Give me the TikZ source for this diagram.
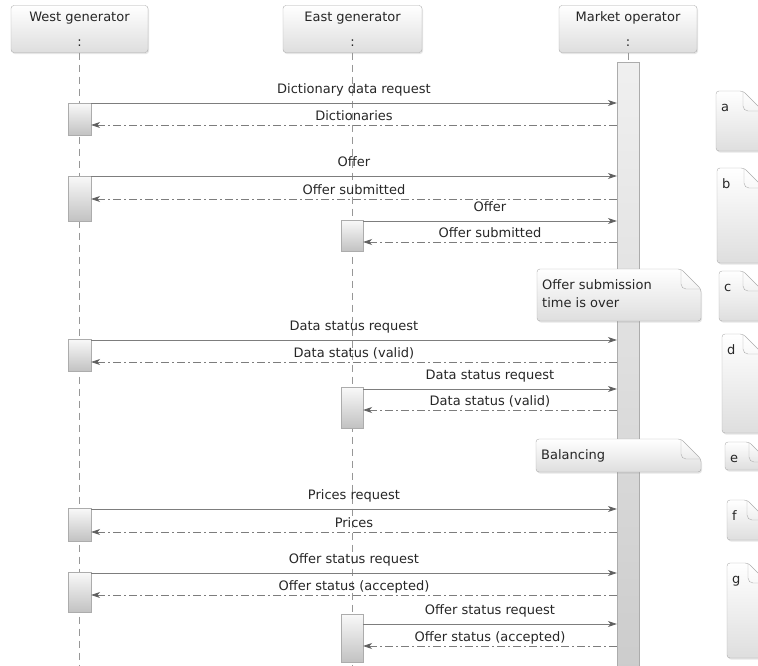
\documentclass[tikz,border=0pt]{standalone}
\usepackage{fontspec}
\setmainfont{DejaVu Sans}
\usetikzlibrary{arrows.meta,shadows}
\definecolor{lncol}{RGB}{125,125,125}
\definecolor{tipcol}{RGB}{95,95,95}
\definecolor{edgecol}{RGB}{172,172,172}
\definecolor{boxbot}{RGB}{222,222,222}
\tikzset{
  lbl/.style={font=\fontsize{13}{18}\selectfont, text=black!85},
  softshadow/.style={drop shadow={shadow xshift=1pt, shadow yshift=-1.5pt, opacity=0.2}},
  head/.style={lbl, draw=edgecol, rounded corners=3pt, top color=white, bottom color=boxbot, minimum width=137pt, minimum height=47pt, align=center, inner sep=0pt, softshadow},
  life/.style={draw=lncol!80, dash pattern=on 7pt off 5pt, line width=0.6pt},
  act/.style={draw=edgecol, top color=gray!5, bottom color=gray!48, minimum width=23pt, inner sep=0pt, anchor=north},
  bar/.style={draw=edgecol, top color=gray!12, bottom color=gray!40, minimum width=22pt, minimum height=610pt, inner sep=0pt, anchor=north},
  msg/.style={draw=lncol, line width=0.7pt, -{Stealth[length=9pt,width=6pt,color=tipcol]}},
  ret/.style={msg, dash pattern=on 8pt off 3pt on 2pt off 3pt},
  reqtxt/.style={lbl, midway, anchor=base, yshift=10pt, inner sep=0pt},
  rettxt/.style={lbl, midway, anchor=base, yshift=5pt, inner sep=0pt},
  notefill/.style={draw=edgecol, rounded corners=3pt, top color=white, bottom color=boxbot, softshadow},
  notefold/.style={draw=edgecol, rounded corners=5pt},
  pics/notebox/.style n args={3}{code={
    \path[notefill] (0,0) -- (#1-20,0) -- (#1,20) -- (#1,#2) -- (0,#2) -- cycle;
    \draw[notefold] (#1-20,0) |- (#1,20);
    \node[lbl, anchor=base west, inner sep=0pt] (-txt) at (5,20) {#3};
  }}
}

\begin{document}
\begin{tikzpicture}[x=1pt,y=-1pt]
\useasboundingbox (0,0) rectangle (758,665);
\clip (0,0) rectangle (758,665);
\node[head] (west) at (79.5,29) {West generator\\[7pt]:};
\node[head, minimum width=139pt] (east) at (352.5,29) {East generator\\[7pt]:};
\node[head, minimum width=138pt] (market) at (628,29) {Market operator\\[7pt]:};
\coordinate (bot) at (0,665);
\draw[life] (west.south) -- (west.south |- bot);
\draw[life] (east.south) -- (east.south |- bot);
\node[bar] (mbar) at (628,62) {};
\draw[life] (market.south) -- (mbar.north);
%\draw[step=10pt,gray,very thin] (0,0) grid (758,665);
\node[act, minimum height=32pt] (w1) at (79.5,103) {};
\node[act, minimum height=45pt] (w2) at (79.5,176) {};
\node[act, minimum width=22pt, minimum height=31pt] (e1) at (352,220) {};
\node[act, minimum height=32pt] (w3) at (79.5,339) {};
\node[act, minimum width=22pt, minimum height=41pt] (e2) at (352,387) {};
\node[act, minimum height=33pt] (w4) at (79.5,508) {};
\node[act, minimum height=40pt] (w5) at (79.5,572) {};
\node[act, minimum width=22pt, minimum height=48pt] (e3) at (352,614) {};
\coordinate (a1) at (0,103);
\coordinate (a2) at (0,125);
\coordinate (a3) at (0,176);
\coordinate (a4) at (0,199);
\coordinate (a5) at (0,221);
\coordinate (a6) at (0,242);
\coordinate (a7) at (0,340);
\coordinate (a8) at (0,362);
\coordinate (a9) at (0,389);
\coordinate (a10) at (0,410);
\coordinate (a11) at (0,509);
\coordinate (a12) at (0,532);
\coordinate (a13) at (0,573);
\coordinate (a14) at (0,595);
\coordinate (a15) at (0,624);
\coordinate (a16) at (0,646);
\draw[msg] (w1.east |- a1) -- (mbar.west |- a1) node[reqtxt]{Dictionary data request};
\draw[ret] (mbar.west |- a2) -- (w1.east |- a2) node[rettxt]{Dictionaries};
\draw[msg] (w2.east |- a3) -- (mbar.west |- a3) node[reqtxt]{Offer};
\draw[ret] (mbar.west |- a4) -- (w2.east |- a4) node[rettxt]{Offer submitted};
\draw[msg] (e1.east |- a5) -- (mbar.west |- a5) node[reqtxt]{Offer};
\draw[ret] (mbar.west |- a6) -- (e1.east |- a6) node[rettxt]{Offer submitted};
\draw[msg] (w3.east |- a7) -- (mbar.west |- a7) node[reqtxt]{Data status request};
\draw[ret] (mbar.west |- a8) -- (w3.east |- a8) node[rettxt]{Data status (valid)};
\draw[msg] (e2.east |- a9) -- (mbar.west |- a9) node[reqtxt]{Data status request};
\draw[ret] (mbar.west |- a10) -- (e2.east |- a10) node[rettxt]{Data status (valid)};
\draw[msg] (w4.east |- a11) -- (mbar.west |- a11) node[reqtxt]{Prices request};
\draw[ret] (mbar.west |- a12) -- (w4.east |- a12) node[rettxt]{Prices};
\draw[msg] (w5.east |- a13) -- (mbar.west |- a13) node[reqtxt]{Offer status request};
\draw[ret] (mbar.west |- a14) -- (w5.east |- a14) node[rettxt]{Offer status (accepted)};
\draw[msg] (e3.east |- a15) -- (mbar.west |- a15) node[reqtxt]{Offer status request};
\draw[ret] (mbar.west |- a16) -- (e3.east |- a16) node[rettxt]{Offer status (accepted)};
\pic (nover) at (537,269) {notebox={164}{52}{\begin{tabular}[t]{@{}l@{}}Offer submission\\time is over\end{tabular}}};
\pic (nbal) at (536,439) {notebox={165}{33}{Balancing}};
\pic (na) at (716,91) {notebox={47}{60}{a}};
\pic (nb) at (717,168) {notebox={47}{95}{b}};
\pic (nc) at (719,271) {notebox={44}{50}{c}};
\pic (nd) at (722,334) {notebox={41}{99}{d}};
\pic (ne) at (725,442) {notebox={44}{28}{e}};
\pic (nf) at (727,500) {notebox={40}{40}{f}};
\pic (ng) at (727,563) {notebox={41}{95}{g}};
\end{tikzpicture}
\end{document}
